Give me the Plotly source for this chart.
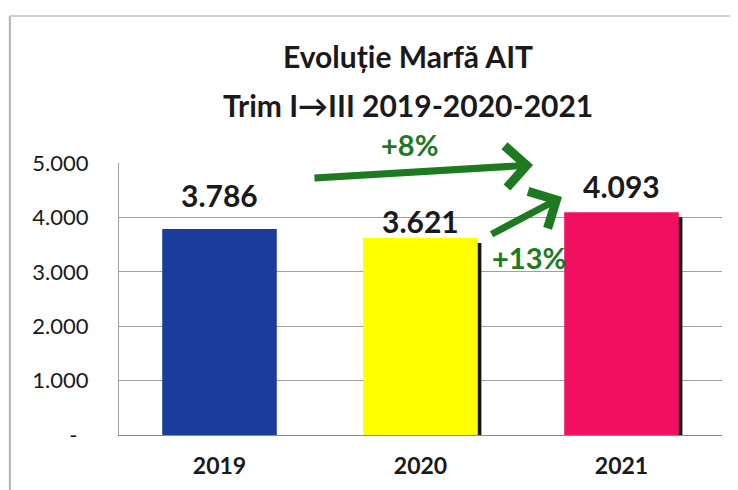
import plotly.graph_objects as go

# ---- data ----
years = ["2019", "2020", "2021"]
values = [3786, 3621, 4093]
value_labels = ["3.786", "3.621", "4.093"]
bar_colors = ["#1B3E9E", "#FFFF00", "#F0105F"]
shadow_colors = ["rgba(0,0,0,0)", "#151515", "#151515"]
label_shift = [14, -3, 6]           # px above bar top for the value labels
Y_MAX = 5000
X_RANGE = [-0.5, 2.5]
y_tickvals = [0, 1000, 2000, 3000, 4000, 5000]
y_ticktext = ["-\u00a0\u00a0", "1.000", "2.000", "3.000", "4.000", "5.000"]

title_lines = ["Evoluție Marfă AIT", "Trim I→III 2019-2020-2021"]

# growth arrows (category index units / data units)
arrow_labels = ["+8%", "+13%"]
arrow_tail_x = [0.465, 1.346]
arrow_tail_y = [4724, 3676]
arrow_head_x = [1.56, 1.704]
arrow_head_y = [4963, 4375]
arrow_text_x = [0.943, 1.54]
arrow_text_y = [5331, 3254]

FONT = "Lato"
GREEN = "#1E7A20"
INK = "#1a1a1a"

xpos = list(range(len(years)))

fig = go.Figure()
# drop shadow (right edge) behind the bars
fig.add_trace(go.Bar(
    x=xpos, y=values, base=[-90] * len(values),
    marker=dict(color=shadow_colors, line=dict(width=0)),
    width=0.57, offset=-0.285 + 0.018,
    hoverinfo="skip",
))
fig.add_trace(go.Bar(
    x=xpos, y=values,
    marker=dict(color=bar_colors, line=dict(width=0)),
    width=0.57, offset=-0.285,
    hovertext=years, hoverinfo="text+y",
))

annotations = []
for xp, v, t, s in zip(xpos, values, value_labels, label_shift):
    annotations.append(dict(x=xp, y=v, xref="x", yref="y", text="<b>%s</b>" % t,
                            showarrow=False, yanchor="bottom", yshift=s,
                            font=dict(family=FONT, size=30, color=INK)))

for lab, tx, ty, hx, hy, lx, ly in zip(arrow_labels, arrow_tail_x, arrow_tail_y,
                                       arrow_head_x, arrow_head_y, arrow_text_x, arrow_text_y):
    annotations.append(dict(x=hx, y=hy, ax=tx, ay=ty, xref="x", yref="y",
                            axref="x", ayref="y", text="", showarrow=True,
                            arrowhead=4, arrowsize=1.15, arrowwidth=7,
                            arrowcolor=GREEN))
    annotations.append(dict(x=(lx - X_RANGE[0]) / (X_RANGE[1] - X_RANGE[0]),
                            y=ly / Y_MAX, xref="paper", yref="paper",
                            xanchor="center", yanchor="middle",
                            text="<b>%s</b>" % lab, showarrow=False,
                            font=dict(family=FONT, size=29, color=GREEN)))

for line, yp in zip(title_lines, [1.393, 1.215]):
    annotations.append(dict(x=0.479, y=yp, xref="paper", yref="paper",
                            text="<b>%s</b>" % line, showarrow=False,
                            xanchor="center", yanchor="middle",
                            font=dict(family=FONT, size=30, color=INK)))

# the page body has an 8px margin, so the figure is 8px smaller than the window
fig.update_layout(
    width=730, height=482,
    margin=dict(l=111, r=16, t=155, b=55),
    paper_bgcolor="white", plot_bgcolor="white",
    showlegend=False,
    barmode="overlay",
    xaxis=dict(
        range=X_RANGE, tickvals=xpos, ticktext=["<b>%s</b>" % y for y in years],
        showgrid=False, showline=True, linecolor="#8a8a8a", linewidth=1,
        zeroline=False,
        ticks="", tickfont=dict(family=FONT, size=23, color=INK),
        ticklabelstandoff=10,
    ),
    yaxis=dict(
        range=[0, Y_MAX],
        tickvals=y_tickvals, ticktext=y_ticktext,
        showgrid=True, gridcolor="#a0a0a0", gridwidth=1,
        showline=True, linecolor="#a0a0a0", linewidth=1,
        zeroline=False,
        ticks="", tickfont=dict(family=FONT, size=22, color=INK),
        ticklabelstandoff=25,
    ),
    annotations=annotations,
    shapes=[
        dict(type="line", xref="paper", yref="paper", x0=-0.181, x1=-0.181, y0=-0.3, y1=1.54,
             line=dict(color="#b0b0b0", width=2)),
        dict(type="line", xref="paper", yref="paper", x0=-0.181, x1=1.05, y0=1.54, y1=1.54,
             line=dict(color="#d0d0d0", width=2)),
    ],
)

fig.write_html("out.html")
